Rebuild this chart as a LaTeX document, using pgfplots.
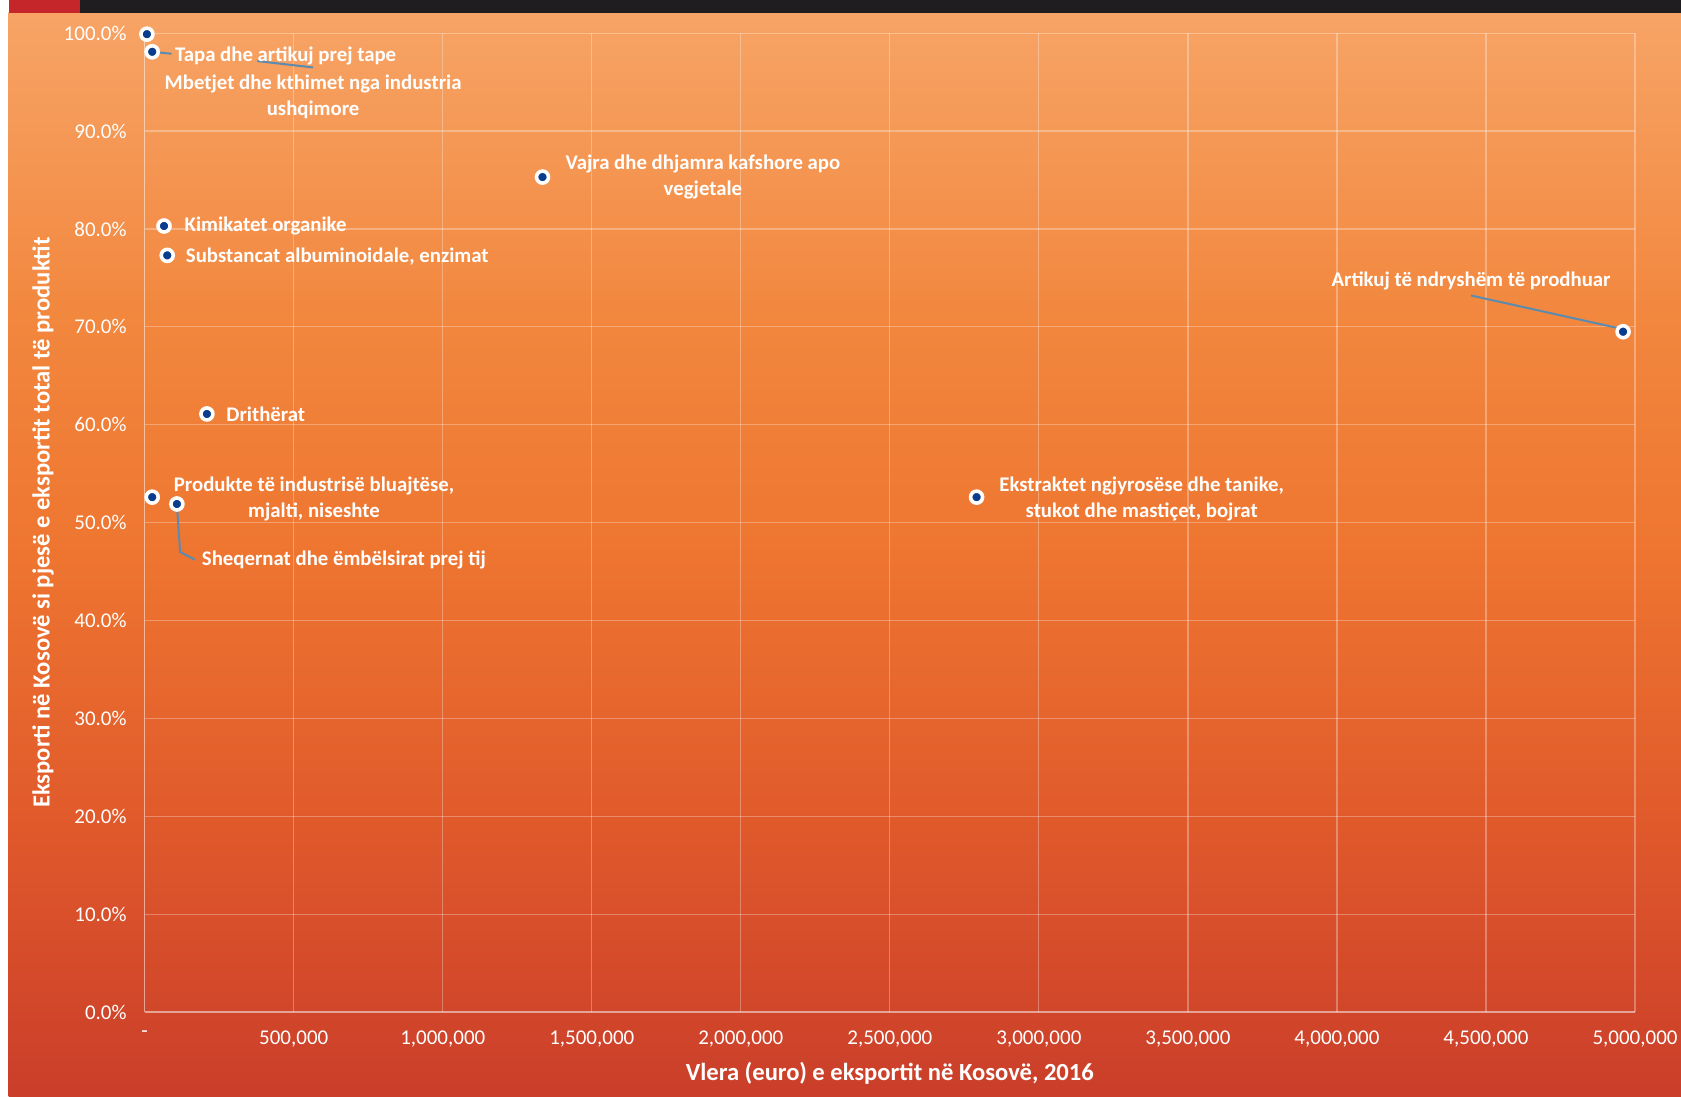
\documentclass[border=0pt]{standalone}
\usepackage{pgfplots}
\pgfplotsset{compat=1.18}
\usepackage{fontspec}
\setmainfont{Carlito}
\definecolor{bg0}{HTML}{F7A466}
\definecolor{bg1}{HTML}{F2873E}
\definecolor{bg2}{HTML}{EE7530}
\definecolor{bg3}{HTML}{E0592B}
\definecolor{bg4}{HTML}{CA3E2A}
\definecolor{ptblue}{HTML}{0B3D8E}
\definecolor{leader}{HTML}{5A8BB0}
\definecolor{barblack}{HTML}{1F1D1F}
\definecolor{barred}{HTML}{C4262A}
\pgfdeclareverticalshading{bgshade}{100bp}{color(0bp)=(bg4); color(25bp)=(bg4); color(37.5bp)=(bg3); color(50bp)=(bg2); color(61bp)=(bg1); color(75bp)=(bg0); color(100bp)=(bg0)}
\tikzset{lbl/.style={text=white, font=\bfseries\fontsize{10.4}{12.9}\selectfont, align=center, inner sep=0pt}}
\begin{document}
\begin{tikzpicture}
\useasboundingbox (0,0) rectangle (840.5pt,548.5pt);
\fill[white] (0,0) rectangle (840.5pt,548.5pt);
\shade[shading=bgshade] (4.3pt,0) rectangle (840.5pt,542pt);
\fill[barblack] (4.3pt,542pt) rectangle (840.5pt,548.5pt);
\fill[barred] (4.3pt,542pt) rectangle (40pt,548.5pt);
\begin{axis}[
  at={(72.35pt,42.5pt)}, anchor=south west,
  scale only axis, width=745.15pt, height=489.4pt,
  xmin=0, xmax=5000000, ymin=0, ymax=100,
  clip=false,
  scaled x ticks=false,
  xtick={0,500000,1000000,1500000,2000000,2500000,3000000,3500000,4000000,4500000,5000000},
  xticklabels={-,{500,000},{1,000,000},{1,500,000},{2,000,000},{2,500,000},{3,000,000},{3,500,000},{4,000,000},{4,500,000},{5,000,000}},
  ytick={0,10,20,30,40,50,60,70,80,90,100},
  yticklabels={0.0\%,10.0\%,20.0\%,30.0\%,40.0\%,50.0\%,60.0\%,70.0\%,80.0\%,90.0\%,100.0\%},
  major tick length=0pt,
  grid=major,
  grid style={white, opacity=0.3, line width=0.6pt},
  axis line style={white, opacity=0.3, line width=0.6pt},
  axis x line*=bottom, axis y line*=left,
  ticklabel style={text=white, font=\fontsize{10.5}{12}\selectfont},
  xticklabel style={yshift=-6pt},
  yticklabel style={xshift=-5.5pt},
  xlabel={Vlera (euro) e eksportit në Kosovë, 2016},
  ylabel={Eksporti në Kosovë si pjesë e eksportit total të produktit},
  label style={text=white, font=\bfseries\fontsize{12.3}{14}\selectfont},
  xlabel style={at={(axis description cs:0.5,-0.0623)}, anchor=center},
  ylabel style={at={(axis description cs:-0.0682,0.5)}, anchor=center},
]
% leader lines
\draw[leader, line width=1pt] (axis cs:25200,98.1) -- (axis cs:89900,97.9);
\draw[leader, line width=1pt] (axis cs:377800,97.15) -- (axis cs:564700,96.5);
\draw[leader, line width=1pt] (axis cs:108000,51.9) -- (axis cs:118800,47.0) -- (axis cs:169000,46.2);
\draw[leader, line width=1pt] (axis cs:4450000,73.2) -- (axis cs:4939000,69.9);
% data points
\addplot[only marks, mark=*, mark size=3pt, mark options={fill=ptblue, draw=white, line width=1.8pt}] coordinates {
  (7400,99.9)
  (25200,98.1)
  (1334600,85.3)
  (64800,80.3)
  (75600,77.3)
  (208700,61.1)
  (25200,52.6)
  (108000,51.9)
  (2791000,52.6)
  (4960000,69.5)
};
% labels
\node[lbl, anchor=west] at (axis cs:100600,97.7) {Tapa dhe artikuj prej tape};
\node[lbl] at (axis cs:565000,93.5) {Mbetjet dhe kthimet nga industria\\ushqimore};
\node[lbl] at (axis cs:1873000,85.3) {Vajra dhe dhjamra kafshore apo\\vegjetale};
\node[lbl, anchor=west] at (axis cs:133000,80.3) {Kimikatet organike};
\node[lbl, anchor=west] at (axis cs:137000,77.2) {Substancat albuminoidale, enzimat};
\node[lbl, anchor=west] at (axis cs:273000,61.1) {Drithërat};
\node[lbl] at (axis cs:568000,52.4) {Produkte të industrisë bluajtëse,\\mjalti, niseshte};
\node[lbl, anchor=west] at (axis cs:190700,46.2) {Sheqernat dhe ëmbëlsirat prej tij};
\node[lbl] at (axis cs:3345000,52.4) {Ekstraktet ngjyrosëse dhe tanike,\\stukot dhe mastiçet, bojrat};
\node[lbl] at (axis cs:4450000,74.7) {Artikuj të ndryshëm të prodhuar};
\end{axis}
\end{tikzpicture}
\end{document}
